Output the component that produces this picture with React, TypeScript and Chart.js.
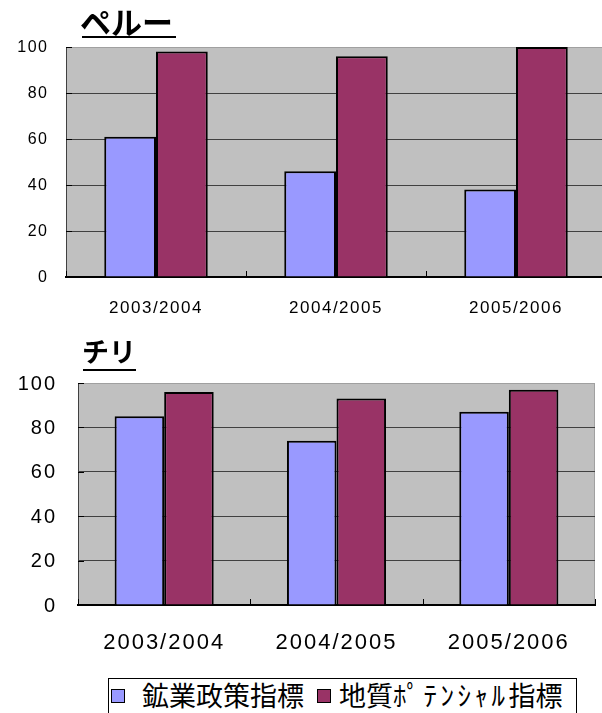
import React, { useEffect, useRef } from 'react';
import { Chart, registerables } from 'chart.js';

Chart.register(...registerables);

const categories = ['2003/2004', '2004/2005', '2005/2006'];
const seriesNames = ['鉱業政策指標', '地質ﾎﾟﾃﾝｼｬﾙ指標'];
const peruMining = [61, 46, 38];
const peruGeology = [98, 96, 100];
const chileMining = [85, 74, 87];
const chileGeology = [96, 93, 97];
const yMin = 0;
const yMax = 100;
const yStep = 20;
const seriesColors = ['#9999FF', '#993366'];

const framePlugin = {
  id: 'plotFrame',
  beforeDraw(chart: any, _args: any, opts: any) {
    const { ctx, chartArea: a } = chart;
    try { (ctx as any).letterSpacing = (opts && opts.spacing) || '0px'; } catch (e) { /* ignore */ }
    ctx.save();
    ctx.fillStyle = '#C0C0C0';
    ctx.fillRect(a.left, a.top, a.right - a.left, a.bottom - a.top);
    ctx.strokeStyle = '#A0A0A0';
    ctx.lineWidth = 1;
    ctx.strokeRect(a.left + 0.5, a.top + 0.5, a.right - a.left - 1, a.bottom - a.top - 1);
    ctx.restore();
  },
  beforeDatasetsDraw(chart: any) {
    const { ctx, chartArea: a } = chart;
    const xs = chart.scales.x;
    const ys = chart.scales.y;
    ctx.save();
    ctx.strokeStyle = '#000';
    ctx.lineWidth = 1;
    ctx.beginPath();
    ys.ticks.forEach((t: any) => {
      const py = Math.round(ys.getPixelForValue(t.value)) + 0.5;
      ctx.moveTo(a.left, py);
      ctx.lineTo(a.left + 6, py);
    });
    const n = categories.length;
    const w = (xs.right - xs.left) / n;
    for (let i = 0; i <= n; i++) {
      const px = Math.round(xs.left + i * w) + 0.5;
      ctx.moveTo(px, a.bottom);
      ctx.lineTo(px, a.bottom - 6);
    }
    ctx.stroke();
    ctx.restore();
  },
};

function makeConfig(a: number[], b: number[], o: any): any {
  const ds = (i: number, data: number[]) => ({
    label: seriesNames[i],
    data,
    backgroundColor: seriesColors[i],
    borderColor: '#000',
    borderWidth: 2,
    barPercentage: 1,
    categoryPercentage: 0.575,
  });
  return {
    type: 'bar',
    data: { labels: categories, datasets: [ds(0, a), ds(1, b)] },
    options: {
      responsive: false,
      animation: false,
      devicePixelRatio: 1,
      layout: { padding: { top: o.padTop, right: o.padRight, left: 0, bottom: 0 } },
      plugins: { legend: { display: false }, tooltip: { enabled: false }, plotFrame: { spacing: o.spacing } },
      scales: {
        x: {
          grid: { display: false, drawTicks: false },
          border: { display: true, color: '#000', width: 2 },
          ticks: { font: { family: '"Liberation Sans", Arial, sans-serif', size: o.xFont }, color: '#000', padding: o.xPad, maxRotation: 0, autoSkip: false },
          afterFit: (s: any) => { s.height = o.xHeight; },
        },
        y: {
          min: yMin,
          max: yMax,
          ticks: { stepSize: yStep, font: { family: '"Liberation Sans", Arial, sans-serif', size: o.yFont }, color: '#000', padding: o.yPad, labelOffset: 1 },
          grid: {
            drawTicks: false,
            lineWidth: 1,
            color: (c: any) => (c.tick && c.tick.value === yMax ? '#A0A0A0' : c.tick && c.tick.value === yMin ? '#000' : '#404040'),
          },
          border: { display: true, color: '#404040', width: 1 },
          afterFit: (s: any) => { s.width = o.yWidth; },
        },
      },
    },
    plugins: [framePlugin],
  };
}

function splitHalfWidth(s: string) {
  const parts: { text: string; half: boolean }[] = [];
  for (const ch of s) {
    const half = /[\uFF61-\uFF9F]/.test(ch);
    const last = parts[parts.length - 1];
    if (last && last.half === half) last.text += ch;
    else parts.push({ text: ch, half });
  }
  return parts;
}

export default function App() {
  const topRef = useRef<HTMLCanvasElement>(null);
  const botRef = useRef<HTMLCanvasElement>(null);

  useEffect(() => {
    const c1 = new Chart(topRef.current as HTMLCanvasElement, makeConfig(peruMining, peruGeology, {
      padTop: 47, padRight: 14, xHeight: 53, yWidth: 66, xFont: 17, yFont: 16, xPad: 21, yPad: 17.5, spacing: '1.5px',
    }));
    const c2 = new Chart(botRef.current as HTMLCanvasElement, makeConfig(chileMining, chileGeology, {
      padTop: 53, padRight: 7, xHeight: 55, yWidth: 78, xFont: 22, yFont: 20, xPad: 25, yPad: 21, spacing: '2px',
    }));
    return () => { c1.destroy(); c2.destroy(); };
  }, []);

  const font = '"Noto Sans CJK JP", sans-serif';
  const box = (color: string, left: number) => (
    <div style={{ position: 'absolute', left, top: 689, width: 12, height: 12, background: color, border: '1px solid #000' }} />
  );
  const legendText = (s: string, left: number) => (
    <div style={{ position: 'absolute', left, top: 681, fontSize: 27, lineHeight: '27px', whiteSpace: 'nowrap' }}>
      {splitHalfWidth(s).map((p, i) => (
        <span key={i} style={p.half ? { letterSpacing: '3.5px' } : undefined}>{p.text}</span>
      ))}
    </div>
  );

  return (
    <div style={{ position: 'absolute', left: 0, top: 0, width: 602, height: 713, overflow: 'hidden', background: '#fff', fontFamily: font }}>
      <canvas ref={topRef} width={620} height={330} style={{ position: 'absolute', left: 0, top: 0, width: 620, height: 330 }} />
      <canvas ref={botRef} width={602} height={330} style={{ position: 'absolute', left: 0, top: 330, width: 602, height: 330 }} />
      <div style={{ position: 'absolute', left: 80, top: 5, fontSize: 31, fontWeight: 700, lineHeight: '31px', whiteSpace: 'nowrap' }}>ペルー</div>
      <div style={{ position: 'absolute', left: 82, top: 36, width: 94, height: 2, background: '#000' }} />
      <div style={{ position: 'absolute', left: 82, top: 337, fontSize: 27, fontWeight: 700, lineHeight: '27px', whiteSpace: 'nowrap' }}>チリ</div>
      <div style={{ position: 'absolute', left: 83, top: 369, width: 53, height: 2, background: '#000' }} />
      <div style={{ position: 'absolute', left: 108, top: 678, width: 469, height: 40, border: '1px solid #000', boxSizing: 'border-box' }} />
      {box(seriesColors[0], 111)}
      {legendText(seriesNames[0], 142)}
      {box(seriesColors[1], 317)}
      {legendText(seriesNames[1], 339)}
    </div>
  );
}
